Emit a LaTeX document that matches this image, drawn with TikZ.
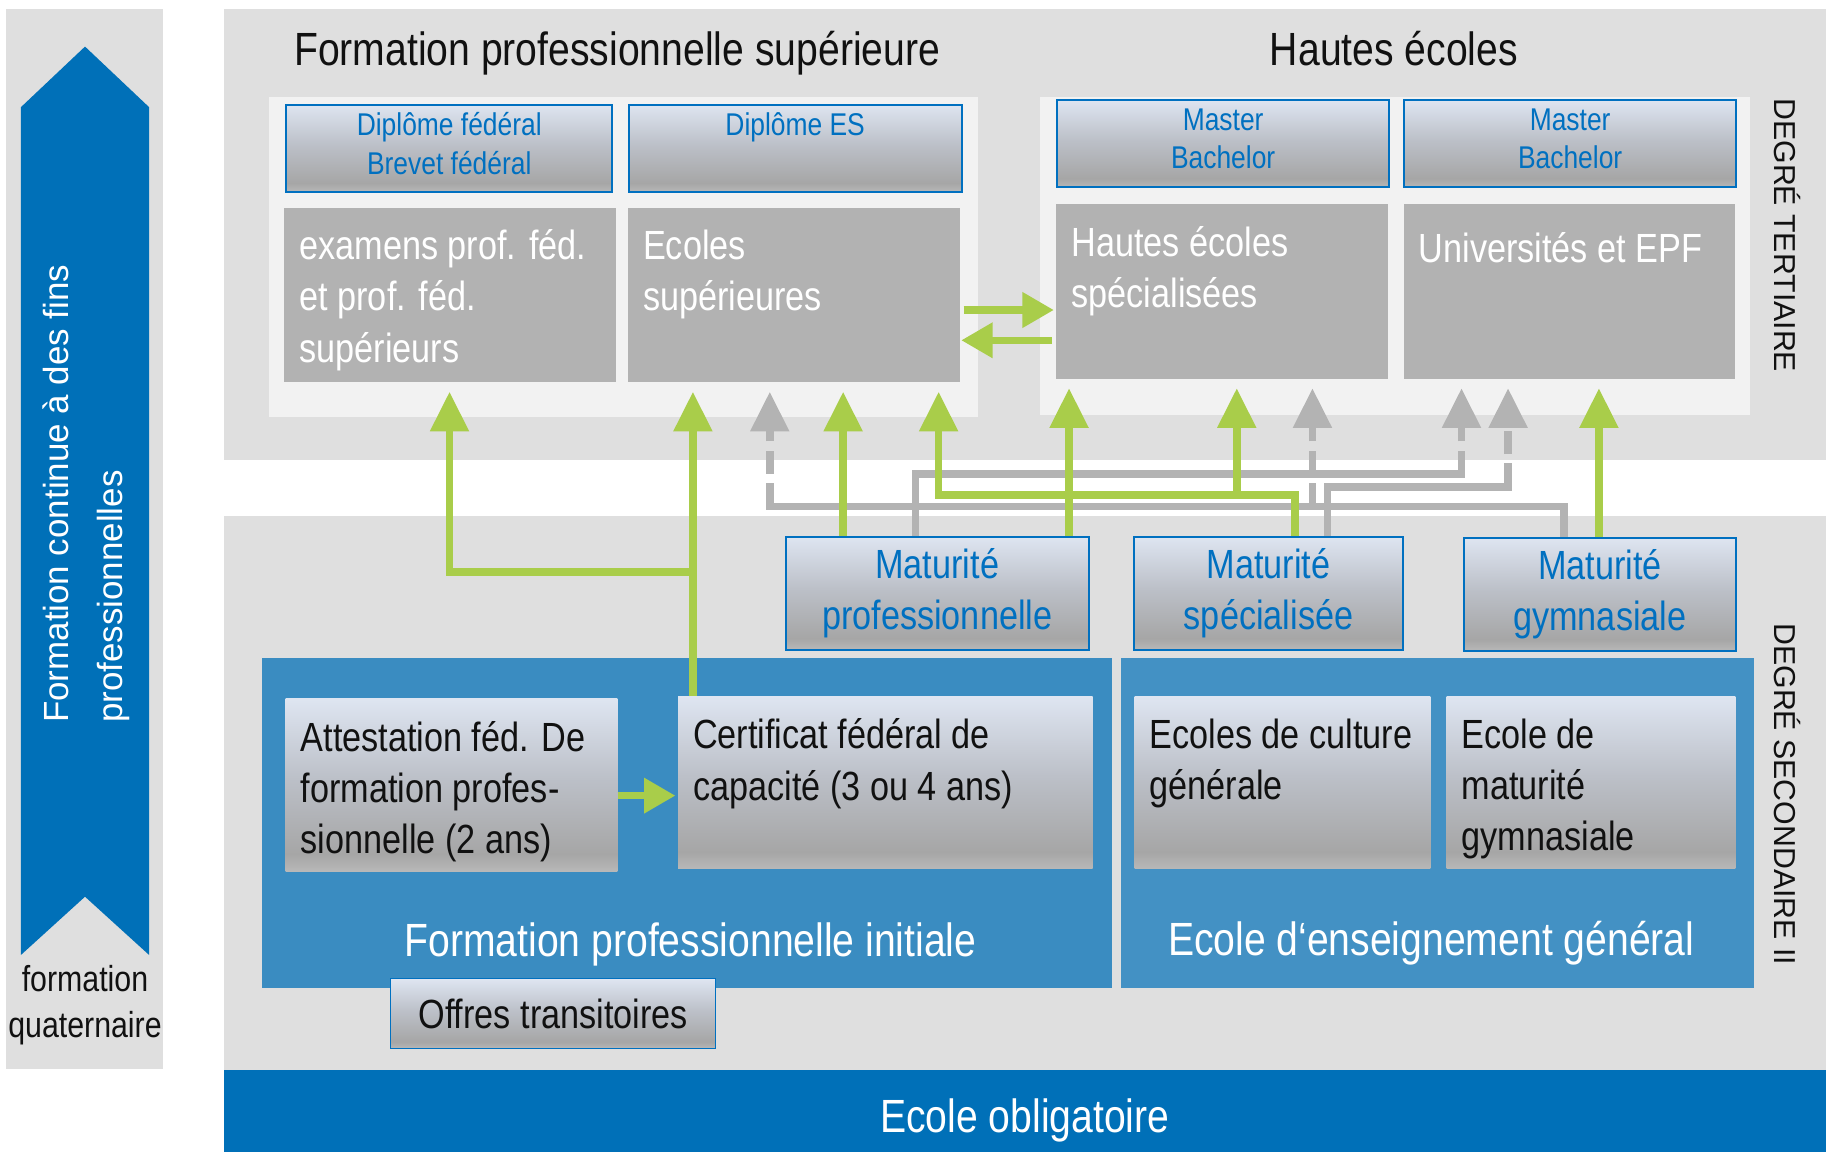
\documentclass[tikz,border=0pt]{standalone}
\usepackage{fontspec}
\setmainfont{Liberation Sans}[FakeStretch=0.84]
\newfontfamily\widefont{Liberation Sans}
\usepackage{xcolor}
\usepackage{tikz}
\usetikzlibrary{arrows.meta,
                positioning}

\definecolor{bgGray}{HTML}{DFDFDF}
\definecolor{panelGray}{HTML}{F2F2F2}
\definecolor{boxGray}{HTML}{B2B2B2}
\definecolor{lineGray}{HTML}{B3B3B3}
\definecolor{darkBlue}{HTML}{0070B8}
\definecolor{textBlue}{HTML}{0070C0}
\definecolor{fpiBlue}{HTML}{3A8CC1}
\definecolor{eegBlue}{HTML}{4391C4}
\definecolor{arrowGreen}{HTML}{A9CD4A}
\definecolor{textBlack}{HTML}{111111}
\definecolor{shTop}{HTML}{DEE5F1}
\definecolor{shMid}{HTML}{BCC0C8}
\definecolor{shDark}{HTML}{A6A6A6}
\definecolor{shBot}{HTML}{B8B8B8}

\pgfdeclareverticalshading{boxshade}{100bp}{color(0bp)=(shBot); color(25bp)=(shBot);
  color(30bp)=(shDark); color(52bp)=(shMid); color(75bp)=(shTop); color(100bp)=(shTop)}

\begin{document}
\begin{tikzpicture}[x=1pt, y=-1pt, text=textBlack,
  wh/.style 2 args={minimum width=#1pt, minimum height=#2pt},
  region/.style={rectangle, inner sep=0pt, anchor=north west},
  graybox/.style={rectangle, fill=boxGray, inner sep=0pt, anchor=north west},
  shadebox/.style={rectangle, shading=boxshade, inner sep=0pt, anchor=north west},
  bluebox/.style={shadebox, draw=textBlue, line width=1.6pt, text=textBlue, align=center},
  ftitle/.style={font=\fontsize{40}{48}\selectfont},
  fbox/.style={font=\fontsize{35}{44}\selectfont},
  fsmall/.style={font=\fontsize{27}{33}\selectfont},
  boxtext/.style={fbox, anchor=north west, inner sep=0pt, align=left,
                  execute at begin node=\strut},
  gline/.style={draw=arrowGreen, line width=6.5pt},
  garrow/.style={gline, -{Triangle[width=32pt,length=34pt]}, shorten >=8pt},
  gsmall/.style={-{Triangle[width=29pt,length=27pt]}},
  grline/.style={draw=lineGray, line width=6.5pt, line cap=rect, shorten <=3.25pt},
  grarrow/.style={draw=lineGray, line width=6.5pt, dash pattern=on 20pt off 8pt,
                  -{Triangle[width=32pt,length=34pt]}, shorten >=8pt}]
\useasboundingbox (0,0) rectangle (1568,989);

% backgrounds
\fill[bgGray] (5,8) rectangle (140,918);
\fill[bgGray] (192,8) rectangle (1568,395);
\fill[bgGray] (192,443) rectangle (1568,919);
\fill[panelGray] (231,83) rectangle (840,358);
\fill[panelGray] (893,83) rectangle (1503,356);
\node[region, fill=darkBlue, wh={1376}{70}] (oblig) at (192,919) {};
\node[region, fill=fpiBlue, wh={730}{283}] (fpi) at (225,565) {};
\node[region, fill=eegBlue, wh={544}{283}] (eeg) at (962,565) {};

% left column
\fill[darkBlue] (18,92) -- (73,40) -- (128,92) -- (128,820) -- (73,770) -- (18,820) -- cycle;
\node[white, rotate=90, align=left, font=\widefont\fontsize{30}{46}\selectfont] (contin)
  at (74,424) {Formation continue à des fins\\professionnelles};
\node[align=center, font=\fontsize{31}{40}\selectfont] (quat) at (73,863) {formation\\quaternaire};

% titles
\node[ftitle, anchor=base] (fpstitle) at (530,56) {Formation professionnelle supérieure};
\node[ftitle, anchor=base] (hetitle) at (1197,56) {Hautes écoles};
\node[rotate=-90, font=\widefont\fontsize{26}{30}\selectfont] (degter) at (1535,202) {DEGRÉ TERTIAIRE};
\node[rotate=-90, font=\widefont\fontsize{26}{30}\selectfont] (degsec) at (1535,682) {DEGRÉ SECONDAIRE II};

% degree boxes
\foreach \n/\x/\y/\w/\t in {dipfed/245/89/280/Diplôme fédéral\\Brevet fédéral,
                             dipes/539/89/286/Diplôme ES\\\mbox{},
                             mastera/907/85/285/Master\\Bachelor,
                             masterb/1205/85/285/Master\\Bachelor}
{
  \node[bluebox, wh={\w}{75}] (\n) at (\x,\y) {};
  \node[fsmall, text=textBlue, align=center] (\n-t) at ([yshift=4pt]\n.center) {\t};
}

% tertiary schools
\foreach \n/\x/\y/\t in {examens/244/178/examens prof. féd.\\et prof. féd.\\supérieurs,
                         ecsup/539/178/Ecoles\\supérieures,
                         hes/907/175/Hautes écoles\\spécialisées,
                         univ/1205/175/Universités et EPF}
{
  \node[graybox, wh={285}{150}] (\n) at (\x,\y) {};
  \node[boxtext, white] (\n-t) at ([shift={(13,19)}]\n.north west) {\t};
}

% maturities
\foreach \n/\x/\y/\w/\t in {matpro/674/460/260/Maturité\\professionnelle,
                             matspe/973/460/231/Maturité\\spécialisée,
                             matgym/1256/461/234/Maturité\\gymnasiale}
  \node[bluebox, wh={\w}{97}, fbox] (\n) at (\x,\y) {\t};

% secondary schools
\foreach \n/\x/\y/\w/\t in {attest/245/600/285/Attestation féd. De\\formation profes-\\sionnelle (2 ans),
                             cfc/582/598/356/Certificat fédéral de\\capacité (3 ou 4 ans),
                             ecg/974/598/254/Ecoles de culture\\générale,
                             emg/1242/598/248/Ecole de\\maturité\\gymnasiale}
{
  \node[shadebox, wh={\w}{148}] (\n) at (\x,\y) {};
  \node[boxtext] (\n-t) at ([shift={(13,19)}]\n.north west) {\t};
}

\node[bluebox, wh={279}{60}, line width=1pt, text=textBlack, fbox] (offres) at (335,840) {Offres transitoires};

\node[white, ftitle] (fpil) at (593,811) {Formation professionnelle initiale};
\node[white, ftitle] (eegl) at (1229,810) {Ecole d‘enseignement général};
\node[white, ftitle] (obligl) at (880,962) {Ecole obligatoire};

% lanes and levels
\foreach \n/\x in {ex/386, cf/595, ga/661, pa/724, sa/806, pb/918, sb/1062, gb/1127,
                   pc/1255, sc/1295, gc/1373, pg/786, sg/1140, gg/1343, ss/1112}
  \coordinate (x\n) at (\x,0);
\foreach \n/\y in {cf/491, p/407, s/418, sg/425, g/435}
  \coordinate (y\n) at (0,\y);

% gray connectors
\draw[grline] (xpg |- matpro.north) |- (xpc |- yp);
\draw[grarrow] (xpc |- yp) -- (xpc |- univ.south);
\draw[grline] (xsg |- matspe.north) |- (xsc |- ys);
\draw[grarrow] (xsc |- ys) -- (xsc |- univ.south);
\draw[grline] (xgg |- matgym.north) |- (xga |- yg);
\draw[grarrow] (xga |- yg) -- (xga |- ecsup.south);
\draw[grarrow] (xgb |- yg) -- (xgb |- hes.south);

% green connectors
\draw[garrow, gsmall, shorten >=2pt] ([yshift=-9pt]attest.east) -- ([yshift=-9pt]attest.east -| cfc.west);
\draw[garrow] (xcf |- cfc.north) -- (xcf |- ecsup.south);
\draw[garrow] (xcf |- ycf) -| (xex |- examens.south);
\draw[garrow] (xpa |- matpro.north) -- (xpa |- ecsup.south);
\draw[garrow] (xpb |- matpro.north) -- (xpb |- hes.south);
\draw[garrow] (xss |- matspe.north) |- (xsa |- ysg) -- (xsa |- ecsup.south);
\draw[garrow] (xsb |- ysg) -- (xsb |- hes.south);
\draw[garrow] (xgc |- matgym.north) -- (xgc |- univ.south);
\draw[garrow, gsmall, shorten <=3pt, shorten >=2pt] ([yshift=-13pt]ecsup.east) -- ([yshift=-13pt]ecsup.east -| hes.west);
\draw[garrow, gsmall, shorten <=4pt, shorten >=1pt] ([yshift=-39pt]ecsup.east -| hes.west) -- ([yshift=-39pt]ecsup.east);
\end{tikzpicture}
\end{document}
